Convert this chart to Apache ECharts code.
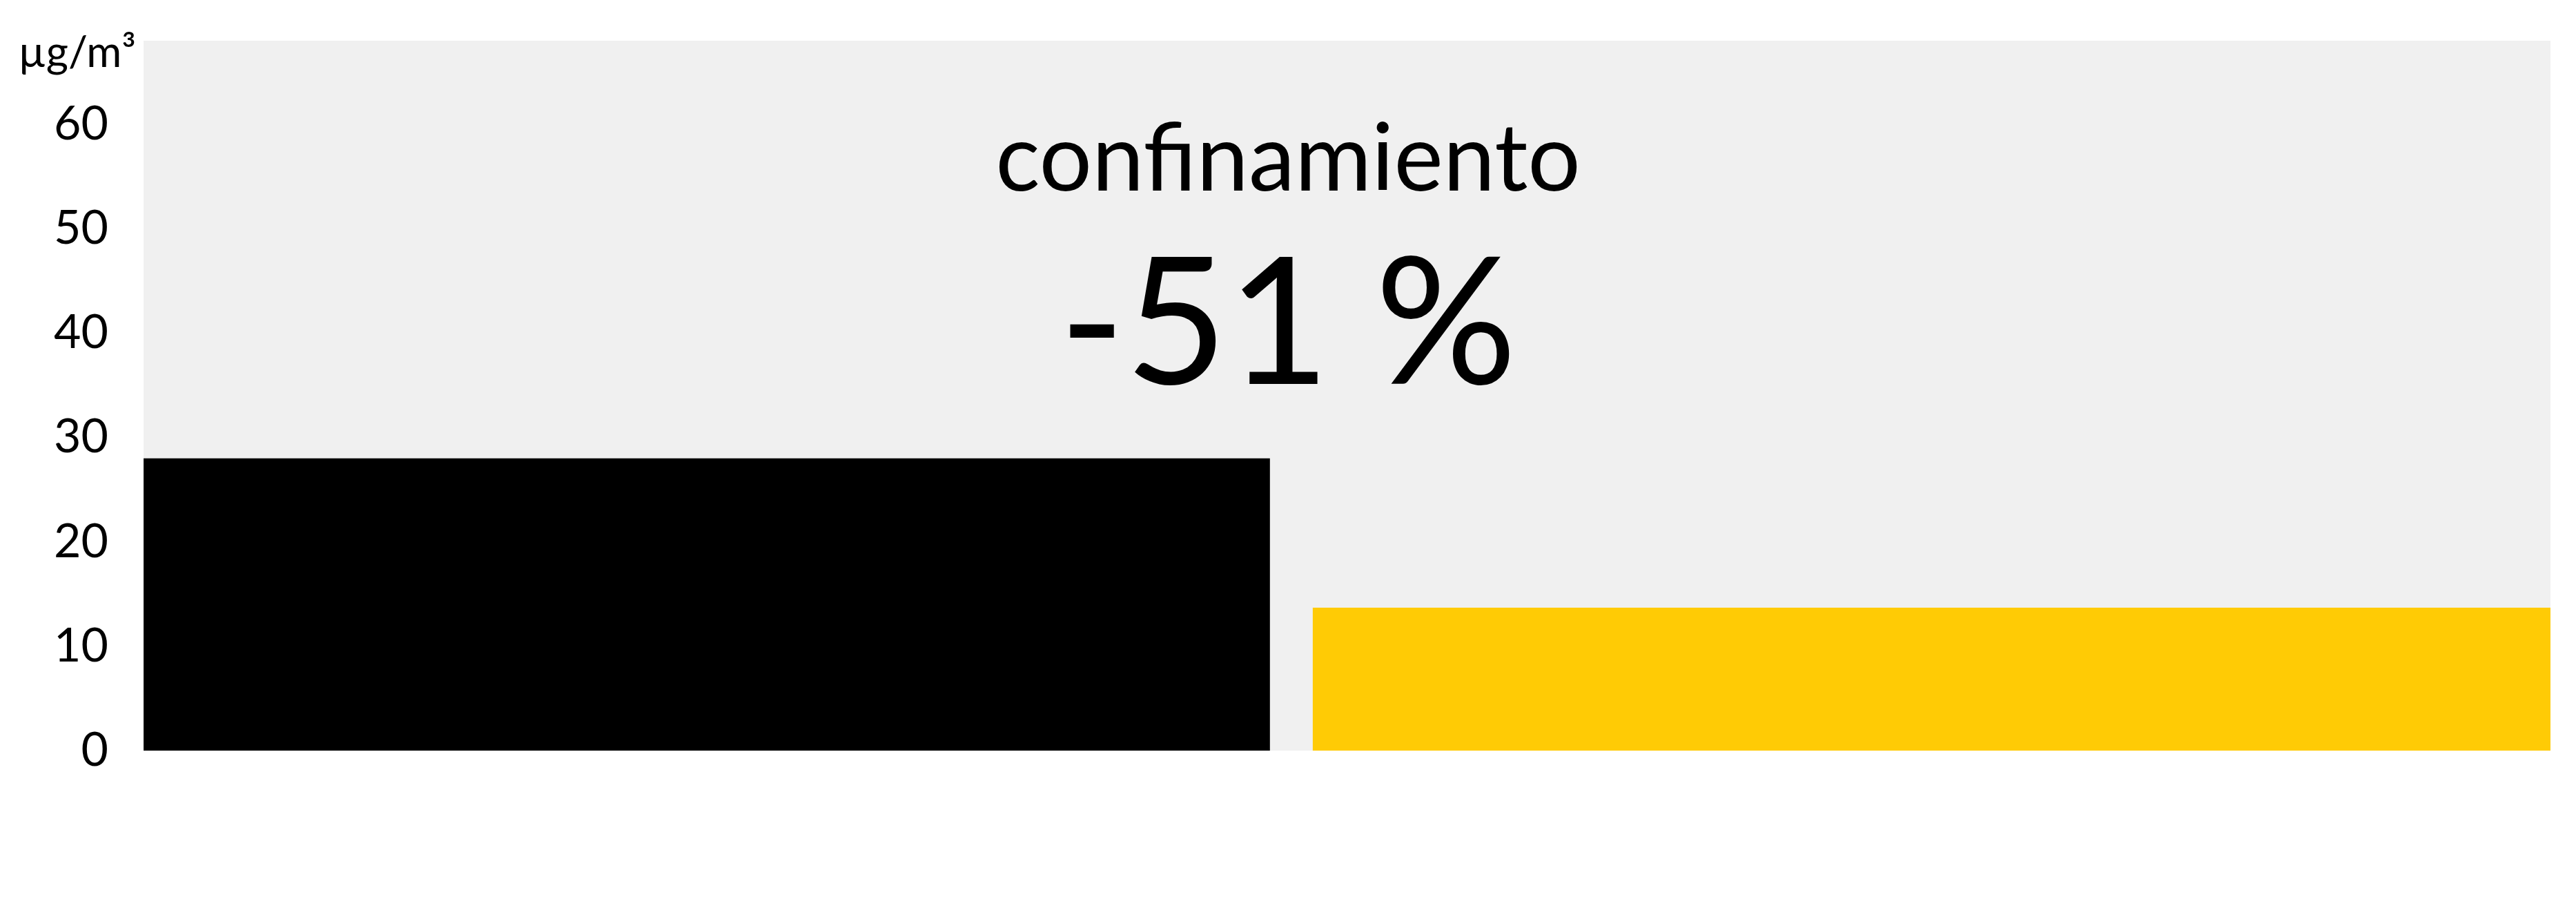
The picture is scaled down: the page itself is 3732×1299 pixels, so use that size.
<!DOCTYPE html>
<html lang="es">
<head>
<meta charset="UTF-8">
<title>confinamiento</title>
<style>
  html, body { margin: 0; padding: 0; background: #fff; }
  #chart { width: 3732px; height: 1299px; }
</style>
</head>
<body>
<div id="chart"></div>
<script src="https://cdn.jsdelivr.net/npm/echarts@6/dist/echarts.min.js"></script>
<script>
  // periodos (días desde el inicio) y media de NO2 en µg/m3
  var periodNames = ['antes', 'confinamiento'];
  var periodStart = [0, 27.3];
  var periodEnd = [26.3, 56.2];
  var values = [28.0, 13.7];
  var colors = ['#000000', '#ffcb05'];
  var yTicks = [0, 10, 20, 30, 40, 50, 60];
  var changeLabel = '-51 %';

  var FONT = 'Lato, "Noto Sans", sans-serif';

  var data = periodNames.map(function (n, i) {
    return { name: n, value: [periodStart[i], periodEnd[i], values[i]], itemStyle: { color: colors[i] } };
  });

  var chart = echarts.init(document.getElementById('chart'));
  chart.setOption({
    animation: false,
    textStyle: { fontFamily: FONT },
    title: [
      {
        text: periodNames[1], left: 'center', top: 160,
        textStyle: { fontFamily: FONT, fontSize: 135, fontWeight: 'normal', color: '#000' }
      },
      {
        text: changeLabel, left: 'center', top: 340,
        textStyle: { fontFamily: FONT, fontSize: 256, fontWeight: 'normal', color: '#000' }
      }
    ],
    grid: {
      left: 208, right: 37, top: 59, bottom: 212,
      show: true, backgroundColor: '#f0f0f0', borderWidth: 0
    },
    xAxis: {
      type: 'value', min: 0, max: periodEnd[1],
      show: false
    },
    yAxis: {
      type: 'value', min: 0, max: 68, interval: 10,
      name: 'µg/m³', nameLocation: 'end', nameGap: -18,
      nameTextStyle: {
        fontFamily: FONT, fontSize: 62, color: '#000',
        align: 'right', verticalAlign: 'middle', padding: [0, 11, 0, 0]
      },
      axisLine: { show: false },
      axisTick: { show: false },
      splitLine: { show: false },
      axisLabel: {
        fontFamily: FONT, fontSize: 68, color: '#000', margin: 51,
        showMaxLabel: false, padding: [10, 0, 0, 0],
        formatter: function (v) { return yTicks.indexOf(v) >= 0 ? String(v) : ''; }
      }
    },
    series: [{
      type: 'custom',
      silent: true,
      encode: { x: [0, 1], y: 2 },
      renderItem: function (params, api) {
        var p0 = api.coord([api.value(0), api.value(2)]);
        var p1 = api.coord([api.value(1), 0]);
        return {
          type: 'rect',
          shape: { x: p0[0], y: p0[1], width: p1[0] - p0[0], height: p1[1] - p0[1] },
          style: { fill: api.visual('color') }
        };
      },
      data: data
    }]
  });
</script>
</body>
</html>
